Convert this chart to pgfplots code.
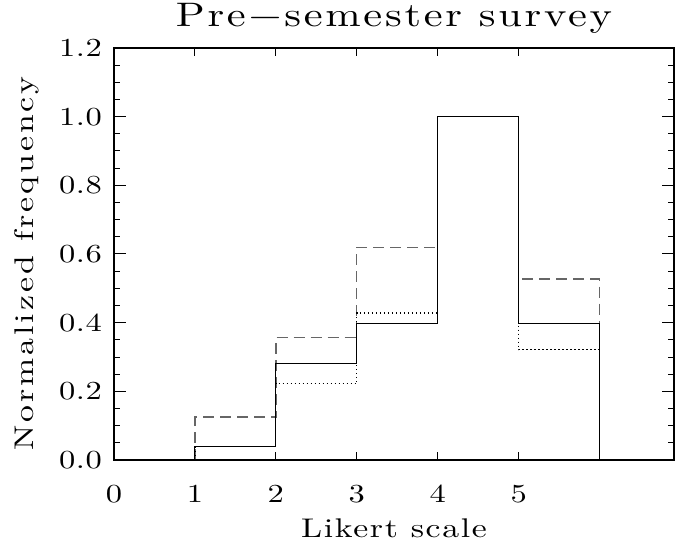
\documentclass[border=0pt]{standalone}
\usepackage{fontspec}
\usepackage{pgfplots}
\pgfplotsset{compat=1.18}
\newfontfamily\lm{lmroman10-regular.otf}[FakeStretch=1.25]
\newcommand\idl[1]{\lm\addfontfeatures{LetterSpace=#1}}
\begin{document}
\begin{tikzpicture}
\begin{axis}[
  scale only axis, width=560bp, height=412bp,
  xmin=0, xmax=6.92, ymin=0, ymax=1.2,
  xtick={0,1,2,3,4,5}, ytick={0,0.2,0.4,0.6,0.8,1.0,1.2},
  minor y tick num=3,
  tick align=inside,
  axis line style={line width=1.3bp},
  every tick/.style={black, line width=1bp},
  xtick style={/pgfplots/major tick length=8bp},
  ytick style={/pgfplots/major tick length=12bp},
  minor tick length=6bp,
  /pgf/number format/assume math mode=true,
  yticklabel style={/pgf/number format/fixed, /pgf/number format/fixed zerofill, /pgf/number format/precision=1,
    font=\fontsize{26bp}{30bp}\selectfont\idl{2}, anchor=east, inner sep=0pt, xshift=-12bp},
  xticklabel style={font=\fontsize{26bp}{30bp}\selectfont\idl{2}, anchor=north, inner sep=0pt, yshift=-25bp},
  title={Pre−semester survey},
  title style={font=\fontsize{34bp}{40bp}\selectfont\idl{8}, at={(axis description cs:0.5,1.0388)}, anchor=base, inner sep=0pt},
  xlabel={Likert scale},
  xlabel style={font=\fontsize{27bp}{32bp}\selectfont\idl{6}, at={(axis description cs:0.5,-0.1869)}, anchor=base, inner sep=0pt},
  ylabel={Normalized frequency},
  ylabel style={font=\fontsize{27bp}{32bp}\selectfont\idl{11}, at={(axis description cs:-0.1446,0.477)}, anchor=base, inner sep=0pt},
]
\addplot[const plot, black!60, line width=1.3bp, dash pattern=on 11bp off 6bp] coordinates {
  (1,0) (1,0.125) (2,0.356) (3,0.619) (4,1.0) (5,0.527) (6,0.527) (6,0)};
\addplot[const plot, black, line width=1.2bp, dash pattern=on 1.2bp off 2.8bp] coordinates {
  (1,0) (1,0.04) (2,0.222) (3,0.428) (4,1.0) (5,0.321) (6,0.321) (6,0)};
\addplot[const plot, black, line width=1.1bp] coordinates {
  (1,0) (1,0.04) (2,0.280) (3,0.398) (4,1.0) (5,0.398) (6,0.398) (6,0)};
\end{axis}
\pgfresetboundingbox
\path ([shift={(-114bp,-82bp)}]current axis.south west) rectangle ([shift={(1bp,48bp)}]current axis.north east);
\end{tikzpicture}
\end{document}
